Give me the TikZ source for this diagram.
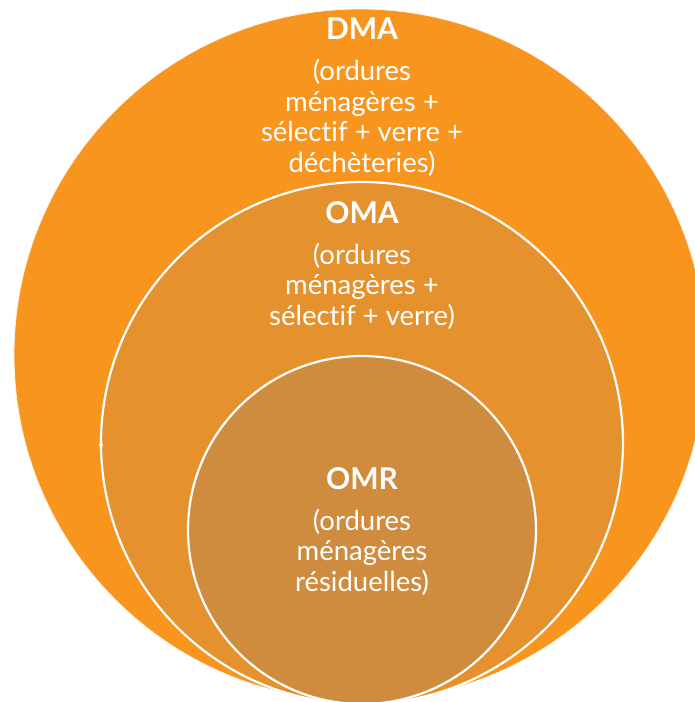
\documentclass[tikz,border=0pt]{standalone}
\usepackage{fontspec}
\setmainfont{Lato}[Ligatures=NoCommon]
\definecolor{dmaorange}{HTML}{F7951F}
\definecolor{omaorange}{HTML}{E4912E}
\definecolor{omrorange}{HTML}{CF8C3E}

\begin{document}
\begin{tikzpicture}[x=1pt, y=-1pt,
    title/.style={text=white, font=\fontsize{30}{32}\selectfont\bfseries},
    desc/.style={text=white, align=center, font=\fontsize{27.5}{30.5}\selectfont},
  ]%
  \useasboundingbox (0, 0) rectangle (695, 702);
  % the three nested circles, all touching at the bottom
  \fill[dmaorange, draw=white!90!dmaorange, line width=.8pt] (360, 355) circle (346);
  \fill[omaorange, draw=white, line width=2.2pt] (362, 443) circle (261);
  \fill[omrorange, draw=white, line width=2.2pt] (362, 530) circle (174);
  \fill[white] (101, 445) circle (2);
  % labels
  \node[title] (dma) at (362, 29) {DMA};
  \node[desc] (dmatext) at (362, 118)
    {(ordures\\ménagères +\\sélectif + verre +\\déchèteries)};
  \node[title] (oma) at (362, 213) {OMA};
  \node[desc] (omatext) at (362, 286)
    {(ordures\\ménagères +\\sélectif + verre)};
  \node[title] (omr) at (362, 479) {OMR};
  \node[desc] (omrtext) at (362, 552)
    {(ordures\\ménagères\\résiduelles)};
\end{tikzpicture}
\end{document}
